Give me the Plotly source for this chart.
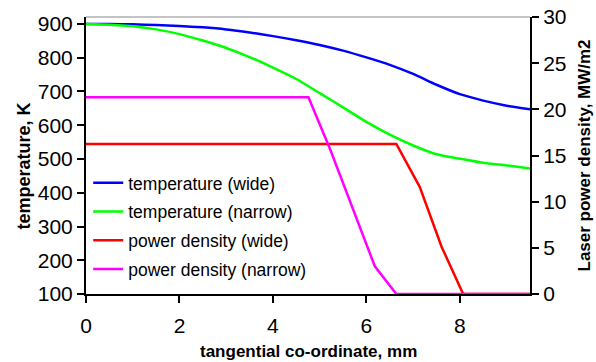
import plotly.graph_objects as go

# ---- data ----
x_temp = [0, 0.5, 1.0, 1.5, 2.0, 2.5, 3.0, 3.5, 4.0, 4.5, 5.0, 5.5, 6.0, 6.5, 7.0, 7.5, 8.0, 8.5, 9.0, 9.5]
temp_wide = [900, 900, 899, 897, 894, 890, 884, 875, 864, 852, 838, 821, 801, 779, 752, 720, 692, 673, 658, 647]
temp_narrow = [900, 898, 893, 884, 870, 851, 829, 802, 771, 737, 695, 653, 610, 572, 540, 514, 501, 489, 481, 472]

x_pow_wide = [0, 6.64, 7.14, 7.61, 8.07, 9.5]
pow_wide = [16.25, 16.25, 11.6, 5.1, 0, 0]
x_pow_narrow = [0, 4.76, 5.23, 5.70, 6.18, 6.64, 9.5]
pow_narrow = [21.3, 21.3, 15.6, 9.4, 3.0, 0, 0]

names = ["temperature (wide)", "temperature (narrow)", "power density (wide)", "power density (narrow)"]
colors = ["#0000FF", "#00FF00", "#FF0000", "#FF00FF"]

x_ticks = [0, 2, 4, 6, 8]
y_ticks = [100, 200, 300, 400, 500, 600, 700, 800, 900]
y2_ticks = [0, 5, 10, 15, 20, 25, 30]

FONT = "Liberation Sans, Arial, sans-serif"

fig = go.Figure()
fig.add_trace(go.Scatter(x=x_temp, y=temp_wide, mode="lines", name=names[0], legendgroup="a",
                         line=dict(color=colors[0], width=2.5, shape="spline", smoothing=0.6)))
fig.add_trace(go.Scatter(x=x_temp, y=temp_narrow, mode="lines", name=names[1], legendgroup="b",
                         line=dict(color=colors[1], width=2.5, shape="spline", smoothing=0.6)))
fig.add_trace(go.Scatter(x=x_pow_wide, y=pow_wide, mode="lines", name=names[2], yaxis="y2", legendgroup="c",
                         line=dict(color=colors[2], width=2.5)))
fig.add_trace(go.Scatter(x=x_pow_narrow, y=pow_narrow, mode="lines", name=names[3], yaxis="y2", legendgroup="d",
                         line=dict(color=colors[3], width=2.5)))

axis_common = dict(showgrid=False, zeroline=False, showline=True, linecolor="black", linewidth=2,
                   ticks="outside", ticklen=7, tickwidth=2, tickcolor="black", automargin=False,
                   tickfont=dict(family=FONT, size=21, color="black"))

fig.update_layout(
    width=596, height=362,
    margin=dict(l=86, r=66, t=17, b=68),
    paper_bgcolor="white", plot_bgcolor="white",
    showlegend=True,
    legend=dict(x=0.005, y=0.466, xanchor="left", yanchor="top",
                bgcolor="rgba(0,0,0,0)", font=dict(family=FONT, size=17.5, color="black"),
                tracegroupgap=3),
    xaxis=dict(range=[0, 9.5], tickvals=x_ticks, ticklabelstandoff=5, **axis_common),
    yaxis=dict(range=[100, 920.7], tickvals=y_ticks, **axis_common),
    yaxis2=dict(range=[0, 30], tickvals=y2_ticks, overlaying="y", side="right", **axis_common),
    shapes=[dict(type="line", xref="paper", yref="paper", x0=0, x1=1, y0=1, y1=1,
                 line=dict(color="#888888", width=1))],
    annotations=[
        dict(text="<b>tangential co-ordinate, mm</b>", xref="paper", yref="paper", x=0.5, y=0,
             yshift=-57, xanchor="center", yanchor="middle", showarrow=False,
             font=dict(family=FONT, size=17, color="black")),
        dict(text="<b>temperature, K</b>", xref="paper", yref="paper", x=0, y=0.46,
             xshift=-62, xanchor="center", yanchor="middle", showarrow=False, textangle=-90,
             font=dict(family=FONT, size=18, color="black")),
        dict(text="<b>Laser power density, MW/m2</b>", xref="paper", yref="paper", x=1, y=0.5,
             xshift=54, xanchor="center", yanchor="middle", showarrow=False, textangle=-90,
             font=dict(family=FONT, size=17, color="black")),
    ],
)

fig.write_html(
    "out.html",
    config={"displayModeBar": False},
    post_script="document.body.style.margin='0px';document.body.style.overflow='hidden';"
                "document.documentElement.style.overflow='hidden';",
)
